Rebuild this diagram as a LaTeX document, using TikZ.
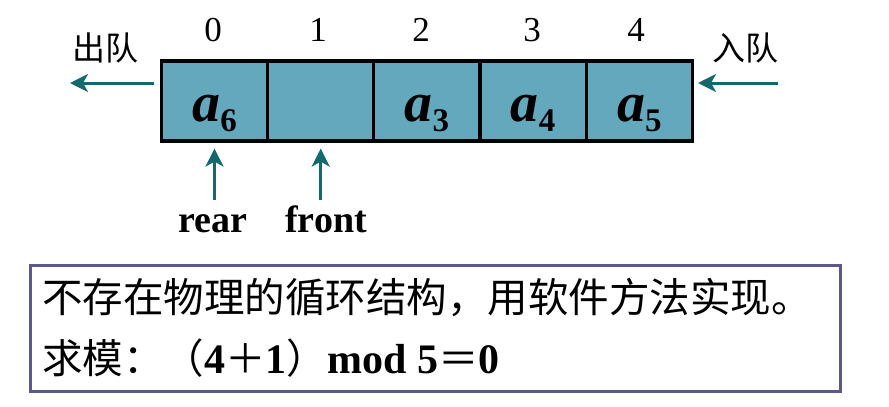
\documentclass[tikz,border=0pt]{standalone}
\usepackage{fontspec}
\setmainfont{Liberation Serif}
\newfontfamily\cjk{Noto Sans CJK SC}
\usetikzlibrary{arrows.meta}
\definecolor{cellfill}{RGB}{100,168,190}
\definecolor{arrowcol}{RGB}{20,105,110}
\definecolor{boxcol}{RGB}{90,88,140}
\tikzset{
  cell/.style={draw=black, line width=3.2pt, fill=cellfill, minimum width=106.2pt, minimum height=80pt, inner sep=0pt, anchor=center},
  elt/.style={inner sep=0pt},
  idx/.style={font=\fontsize{35}{35}\selectfont, inner sep=0pt},
  ptr/.style={draw=arrowcol, line width=3pt, -{Stealth[length=18pt,width=18pt,inset=5pt]}},
  lbl/.style={font=\fontsize{38}{38}\selectfont\bfseries, inner sep=0pt, text height=26pt, text depth=0pt, anchor=base},
  cjklbl/.style={font=\cjk\fontsize{33}{33}\selectfont, inner sep=0pt},
}
\newcommand{\elem}[1]{{\fontsize{56}{56}\selectfont\bfseries\itshape a}\raisebox{-10pt}{\fontsize{33}{33}\selectfont\bfseries #1}}
\begin{document}
\begin{tikzpicture}[x=1pt,y=-1pt]
\useasboundingbox (0,0) rectangle (889,407);
% cells
\node[cell] (c0) at (214.5,101) {};
\node[cell] (c1) at (320.7,101) {};
\node[cell] (c2) at (426.9,101) {};
\node[cell] (c3) at (533.1,101) {};
\node[cell] (c4) at (639.3,101) {};
\node[elt] (e0) at ([yshift=-12pt]c0.center) {\elem{6}};
\node[elt] (e2) at ([yshift=-12pt]c2.center) {\elem{3}};
\node[elt] (e3) at ([yshift=-12pt]c3.center) {\elem{4}};
\node[elt] (e4) at ([yshift=-12pt]c4.center) {\elem{5}};
% indices
\node[idx] (i0) at (213,30) {0};
\node[idx] (i1) at (318,30) {1};
\node[idx] (i2) at (421,30) {2};
\node[idx] (i3) at (532,30) {3};
\node[idx] (i4) at (636,30) {4};
% dequeue / enqueue
\node[cjklbl] (out) at (105,48) {出队};
\node[cjklbl] (in) at (745,48) {入队};
\coordinate (outend) at (70,83);
\coordinate (instart) at (778,83);
\draw[ptr] ([xshift=-6pt]c0.west |- outend) -- (outend);
\draw[ptr] (instart) -- ([xshift=4pt]c4.east |- instart);
% pointers
\node[lbl] (rear) at (213,232) {rear};
\node[lbl] (front) at (326,232) {front};
\draw[ptr] ([yshift=6pt]rear.north -| c0.south) -- ([yshift=-6pt]c0.south);
\draw[ptr] ([yshift=6pt]front.north -| c1.south) -- ([yshift=-6pt]c1.south);
% note box
\node[draw=boxcol, line width=3pt, minimum width=810pt, minimum height=126pt, inner sep=0pt] (note) at (435,328.5) {};
\node[anchor=west, inner sep=0pt, font=\cjk\fontsize{40.5}{40.5}\selectfont] (l1) at (42,298) {不存在物理的循环结构，用软件方法实现。};
\node[anchor=west, inner sep=0pt, font=\fontsize{42}{42}\selectfont\bfseries] (l2) at (42,358) {{\cjk\mdseries\fontsize{40.5}{40.5}\selectfont 求模：（}4{\cjk\mdseries\fontsize{40.5}{40.5}\selectfont ＋}1{\cjk\mdseries\fontsize{40.5}{40.5}\selectfont ）}mod 5{\cjk\mdseries\fontsize{40.5}{40.5}\selectfont ＝}0};
\end{tikzpicture}
\end{document}
